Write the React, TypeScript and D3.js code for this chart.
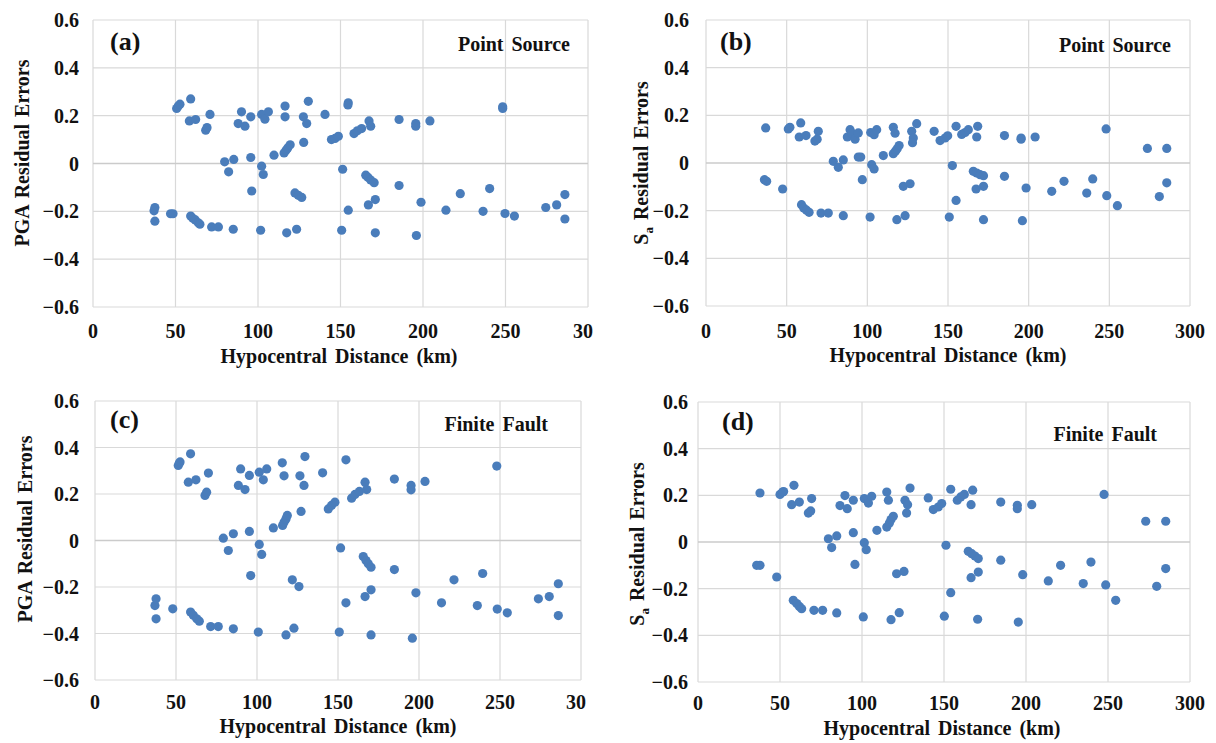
import React from "react";
import * as d3 from "d3";

// ---- DATA (hypocentral distance km, residual error) ----
const pgaPointSource: [number, number][] = [
  [37,-0.198],[37.5,-0.184],[37.5,-0.241],[47,-0.21],[48.5,-0.21],[50.7,0.23],[51.7,0.24],[52.7,0.248],
  [58.4,0.178],[59.2,0.27],[59.2,-0.22],[60.5,-0.229],[62.2,0.184],[62,-0.236],[63.8,-0.248],[64.8,-0.254],
  [68.3,0.139],[69.1,0.15],[70.9,0.205],[71.9,-0.265],[76,-0.265],[79.8,0.007],[82.2,-0.035],[85.3,0.017],
  [85,-0.275],[88,0.167],[90,0.216],[92.1,0.156],[95.6,0.195],[95.6,0.025],[96.2,-0.115],[101.6,-0.279],
  [102.2,0.205],[102.2,-0.011],[103.2,-0.046],[104.2,0.185],[106.3,0.216],[109.7,0.035],[115.8,0.044],
  [116.4,0.24],[116.4,0.195],[117,0.055],[117.4,-0.29],[118,0.065],[119.5,0.078],[122.4,-0.123],
  [123.4,-0.275],[124.4,-0.133],[126.5,-0.142],[127.5,0.195],[127.7,0.088],[129.5,0.167],[130.5,0.26],
  [140.6,0.205],[144.5,0.1],[146.7,0.105],[148.7,0.114],[150.7,-0.279],[151.3,-0.024],[154.7,0.254],
  [154.5,0.245],[154.7,-0.195],[158.2,0.125],[160.2,0.137],[162.8,0.146],[165.3,-0.049],[166.6,-0.058],
  [166.9,-0.173],[167.3,0.178],[168.3,0.156],[168.3,-0.069],[170.4,-0.08],[171.1,-0.151],[171.1,-0.29],
  [185.5,0.184],[185.5,-0.092],[195.6,0.167],[195.6,0.156],[196,-0.301],[198.8,-0.162],[204.2,0.178],
  [213.9,-0.195],[222.6,-0.126],[236.4,-0.2],[240.4,-0.105],[248.3,0.23],[248.3,0.237],[249.7,-0.209],
  [255.4,-0.22],[274.4,-0.184],[281,-0.173],[286,-0.13],[286,-0.232],
];

const saPointSource: [number, number][] = [
  [37,0.147],[36.2,-0.07],[37.6,-0.077],[47.5,-0.109],[51,0.143],[52,0.15],[58.7,0.168],[57.8,0.109],
  [62,0.115],[59.2,-0.175],[60.6,-0.189],[62.3,-0.198],[63.9,-0.207],[69.6,0.133],[67.5,0.092],[68.9,0.1],
  [71.3,-0.21],[75.8,-0.21],[78.9,0.007],[82,-0.018],[85.1,0.013],[85.1,-0.221],[87.6,0.109],[89.3,0.14],
  [90.4,0.125],[92.4,0.1],[94.4,0.126],[94.4,0.025],[95.9,0.025],[96.9,-0.07],[101.7,-0.227],[102.1,0.128],
  [104.2,0.119],[105.8,0.14],[102.7,-0.007],[104.2,-0.025],[109.9,0.031],[116.1,0.15],[117.2,0.125],
  [116.1,0.039],[117.5,0.05],[118.5,0.06],[119.7,0.073],[118.3,-0.238],[123.4,-0.221],[122.3,-0.098],
  [126.5,-0.087],[127.5,0.133],[128.5,0.105],[128,0.085],[130.6,0.165],[141.4,0.133],[145.1,0.094],
  [148.2,0.105],[149.8,0.114],[152.7,-0.011],[155,0.154],[155,-0.157],[150.8,-0.227],[158.5,0.12],
  [160.6,0.128],[162.6,0.14],[168.4,0.154],[167.8,0.109],[165.7,-0.035],[167.8,-0.042],[169.9,-0.049],
  [172,-0.053],[167.4,-0.109],[172,-0.098],[172,-0.238],[185,0.115],[185,-0.056],[195.3,0.105],
  [195.3,0.1],[204,0.109],[198.4,-0.105],[196.1,-0.242],[214.3,-0.119],[221.9,-0.077],[236,-0.126],
  [239.7,-0.067],[248,0.143],[248.4,-0.137],[255,-0.179],[273.6,0.061],[285.6,0.061],[281,-0.141],
  [285.6,-0.083],
];

const pgaFiniteFault: [number, number][] = [
  [37,-0.28],[37.7,-0.251],[37.7,-0.337],[48,-0.294],[51.4,0.323],[52.1,0.333],[52.5,0.338],[59,0.373],
  [57.6,0.251],[62.3,0.261],[59,-0.308],[60.7,-0.322],[62.8,-0.337],[64.4,-0.347],[70,0.29],[67.9,0.194],
  [68.9,0.208],[71.4,-0.37],[76.1,-0.37],[79.2,0.01],[82.3,-0.043],[85.4,0.029],[85.4,-0.38],[88.5,0.237],
  [89.9,0.308],[92.6,0.219],[95.3,0.28],[95.3,0.039],[96.1,-0.151],[100.8,-0.394],[101.4,0.294],
  [103.9,0.261],[106,0.308],[101.4,-0.017],[102.9,-0.06],[110.1,0.054],[115.6,0.334],[116.7,0.278],
  [115.8,0.065],[116.7,0.079],[117.9,0.093],[118.7,0.108],[117.9,-0.406],[122.8,-0.377],[121.8,-0.169],
  [125.9,-0.198],[126.5,0.278],[129,0.237],[127.2,0.125],[129.6,0.361],[140.5,0.291],[144,0.136],
  [146,0.151],[148.1,0.165],[151.6,-0.032],[154.9,0.347],[154.9,-0.268],[150.8,-0.394],[158.4,0.182],
  [160.5,0.198],[163.2,0.211],[166.7,0.251],[167.7,0.219],[165.6,-0.069],[167.3,-0.086],[168.7,-0.1],
  [170.4,-0.115],[166.7,-0.241],[170.4,-0.212],[170.4,-0.406],[184.8,0.264],[184.8,-0.125],[195.1,0.237],
  [195.1,0.218],[203.7,0.254],[198.1,-0.225],[195.9,-0.42],[213.9,-0.268],[221.6,-0.169],[236,-0.28],
  [239.3,-0.142],[248,0.32],[248.3,-0.295],[254.5,-0.311],[273.7,-0.251],[280.4,-0.241],[286,-0.186],
  [286,-0.323],
];

const saFiniteFault: [number, number][] = [
  [37.8,0.21],[35.8,-0.1],[37.8,-0.1],[48,-0.15],[50,0.204],[51.6,0.214],[52.2,0.216],[58.5,0.243],
  [57.1,0.16],[61.8,0.171],[58.1,-0.25],[60.2,-0.264],[61.8,-0.276],[63.2,-0.286],[69.3,0.186],
  [67.3,0.124],[68.7,0.133],[70.7,-0.293],[76,-0.293],[79.5,0.014],[81.5,-0.024],[84.6,0.026],
  [84.6,-0.304],[86.6,0.156],[89.6,0.199],[91,0.143],[94.7,0.179],[94.7,0.04],[95.7,-0.096],[100.8,-0.321],
  [101.4,0.186],[103.9,0.167],[105.9,0.196],[101.4,-0.003],[102.6,-0.033],[109.1,0.05],[115.1,0.214],
  [116.1,0.179],[115.1,0.064],[116.7,0.081],[117.7,0.096],[119.1,0.11],[117.7,-0.333],[122.7,-0.303],
  [121.1,-0.136],[125.6,-0.126],[126.2,0.179],[127.8,0.16],[127.2,0.124],[129.3,0.231],[140.4,0.189],
  [143.5,0.139],[146.5,0.15],[148.6,0.165],[151.2,-0.014],[154.1,0.226],[154.1,-0.217],[150.2,-0.318],
  [158.1,0.179],[160.2,0.193],[162.4,0.204],[167.5,0.222],[166.5,0.16],[164.8,-0.04],[166.9,-0.05],
  [168.9,-0.06],[170.9,-0.071],[166.5,-0.153],[170.9,-0.129],[170.5,-0.331],[184.6,0.171],[184.6,-0.078],
  [194.7,0.157],[194.7,0.143],[203.5,0.16],[198,-0.14],[195.3,-0.343],[213.6,-0.167],[221.1,-0.1],
  [234.9,-0.178],[239.6,-0.086],[247.6,0.204],[248.6,-0.184],[254.7,-0.25],[273,0.089],[285.2,0.089],
  [279.7,-0.19],[285.2,-0.114],
];

const xTicks = [0, 50, 100, 150, 200, 250, 300];
const yTicks = [-0.6, -0.4, -0.2, 0, 0.2, 0.4, 0.6];
const panelLetters = ["(a)", "(b)", "(c)", "(d)"];
const panelTags = ["Point Source", "Point Source", "Finite Fault", "Finite Fault"];
const xTitle = "Hypocentral Distance (km)";

// ---- LAYOUT ----
const FONT = "'Liberation Serif', 'Times New Roman', serif";
const DOT = "#4a7dbb";
const GRID = "#d9d9d9";

type Layout = {
  x0: number; x1: number; y0: number; y1: number;
  letter: [number, number]; tag: [number, number];
  yLab: [number, number]; xLab: [number, number];
  xTickY: number; yTickGap: number; clipRight?: number;
  sa: boolean;
};

const layouts: Layout[] = [
  { x0: 93, x1: 588, y0: 20, y1: 307, letter: [110, 50], tag: [570, 51], yLab: [22, 153], xLab: [339, 363], xTickY: 331, yTickGap: 14, clipRight: 593, sa: false },
  { x0: 706, x1: 1190, y0: 20, y1: 306, letter: [720, 50], tag: [1171, 52], yLab: [641, 163], xLab: [948, 362], xTickY: 331, yTickGap: 17, sa: true },
  { x0: 95, x1: 581, y0: 401, y1: 680, letter: [110, 428], tag: [548, 431], yLab: [25, 529], xLab: [338, 733], xTickY: 702, yTickGap: 16, clipRight: 586, sa: false },
  { x0: 698, x1: 1190, y0: 402, y1: 682, letter: [722, 430], tag: [1157, 441], yLab: [637, 544], xLab: [942, 735], xTickY: 703, yTickGap: 10, sa: true },
];

const datasets = [pgaPointSource, saPointSource, pgaFiniteFault, saFiniteFault];

function Panel({ data, L, idx }: { data: [number, number][]; L: Layout; idx: number }) {
  const x = d3.scaleLinear().domain([0, 300]).range([L.x0, L.x1]);
  const y = d3.scaleLinear().domain([-0.6, 0.6]).range([L.y1, L.y0]);
  const fmt = (v: number) => (Math.abs(v) < 1e-9 ? "0" : d3.format(".1f")(v));
  const clipId = `clip-${idx}`;
  return (
    <g>
      {L.clipRight !== undefined && (
        <defs>
          <clipPath id={clipId}>
            <rect x={0} y={0} width={L.clipRight} height={743} />
          </clipPath>
        </defs>
      )}
      {xTicks.map((t) => (
        <line key={"vx" + t} x1={x(t)} x2={x(t)} y1={L.y0} y2={L.y1} stroke={GRID} strokeWidth={1.2} />
      ))}
      {yTicks.map((t) => (
        <line key={"hy" + t} x1={L.x0} x2={L.x1} y1={y(t)} y2={y(t)} stroke={t === 0 ? "#cbcbcb" : GRID} strokeWidth={t === 0 ? 1.6 : 1.2} />
      ))}
      {data.map((d, i) => (
        <circle key={i} cx={x(d[0])} cy={y(d[1])} r={4.6} fill={DOT} />
      ))}
      <g clipPath={L.clipRight !== undefined ? `url(#${clipId})` : undefined}>
        {xTicks.map((t) => (
          <text key={"xt" + t} x={x(t)} y={L.xTickY} dy="0.35em" textAnchor="middle" fontFamily={FONT} fontWeight="bold" fontSize={20} fill="#111">
            {t}
          </text>
        ))}
      </g>
      {yTicks.map((t) => (
        <text key={"yt" + t} x={L.x0 - L.yTickGap} y={y(t)} dy="0.35em" textAnchor="end" fontFamily={FONT} fontWeight="bold" fontSize={20} fill="#111">
          {fmt(t)}
        </text>
      ))}
      <text x={L.letter[0]} y={L.letter[1]} fontFamily={FONT} fontWeight="bold" fontSize={26} fill="#111">
        {panelLetters[idx]}
      </text>
      <text x={L.tag[0]} y={L.tag[1]} textAnchor="end" fontFamily={FONT} fontWeight="bold" fontSize={20} fill="#111" wordSpacing={3}>
        {panelTags[idx]}
      </text>
      <text x={L.xLab[0]} y={L.xLab[1]} textAnchor="middle" fontFamily={FONT} fontWeight="bold" fontSize={20} fill="#111" wordSpacing={3}>
        {xTitle}
      </text>
      <g transform={`translate(${L.yLab[0]},${L.yLab[1]}) rotate(-90)`}>
        {L.sa ? (
          <text x={0} y={0} dy="0.35em" textAnchor="middle" fontFamily={FONT} fontWeight="bold" fontSize={20} fill="#111" wordSpacing={2}>
            S<tspan fontSize={13} dy={5}>a</tspan><tspan dy={-5}> Residual Errors</tspan>
          </text>
        ) : (
          <text x={0} y={0} dy="0.35em" textAnchor="middle" fontFamily={FONT} fontWeight="bold" fontSize={20} fill="#111" wordSpacing={2}>
            PGA Residual Errors
          </text>
        )}
      </g>
    </g>
  );
}

export default function App() {
  return (
    <svg width={1216} height={743} style={{ position: "absolute", left: 0, top: 0, background: "#fff" }}>
      <rect x={0} y={0} width={1216} height={743} fill="#fff" />
      {layouts.map((L, i) => (
        <Panel key={i} data={datasets[i]} L={L} idx={i} />
      ))}
    </svg>
  );
}
